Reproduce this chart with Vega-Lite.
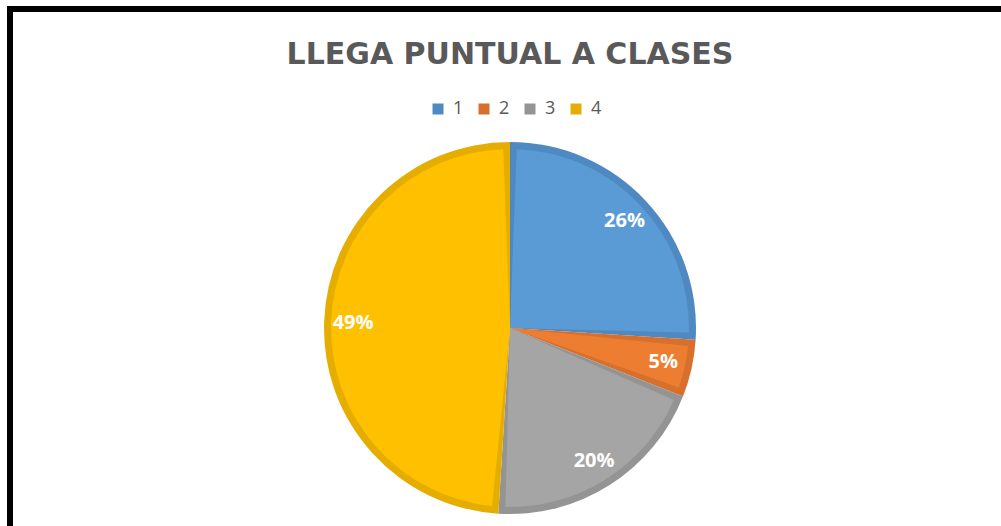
{
  "$schema": "https://vega.github.io/schema/vega-lite/v6.json",
  "autosize": {"type": "none"},
  "padding": {"left": 10, "top": 9, "right": -9, "bottom": -121},
  "width": 1000,
  "height": 638,
  "background": "white",
  "view": {"stroke": "black", "strokeWidth": 6, "fill": "white"},
  "title": {
    "text": "LLEGA PUNTUAL A CLASES",
    "fontSize": 30,
    "font": "DejaVu Sans",
    "fontWeight": "bold",
    "color": "#595959",
    "anchor": "middle",
    "offset": -61
  },
  "data": {
    "values": [
      {"cat": "1", "value": 26, "label": "26%"},
      {"cat": "2", "value": 5, "label": "5%"},
      {"cat": "3", "value": 20, "label": "20%"},
      {"cat": "4", "value": 49, "label": "49%"}
    ]
  },
  "encoding": {
    "theta": {"field": "value", "type": "quantitative", "stack": true},
    "order": {"field": "cat", "type": "ordinal"}
  },
  "layer": [
    {
      "mark": {"type": "arc", "radius": 186},
      "encoding": {
        "fill": {
          "field": "cat",
          "type": "nominal",
          "scale": {"domain": ["1", "2", "3", "4"], "range": ["#4F89C1", "#D6702C", "#949494", "#E5AD00"]},
          "legend": {
            "title": null,
            "orient": "none",
            "direction": "horizontal",
            "legendX": 419,
            "legendY": 91,
            "padding": 0,
            "symbolType": "square",
            "symbolSize": 121,
            "symbolStrokeWidth": 0,
            "labelFont": "Open Sans",
            "labelFontSize": 18,
            "labelColor": "#595959",
            "labelOffset": 6,
            "columnPadding": 11
          }
        }
      }
    },
    {
      "mark": {"type": "arc", "radius": 179, "padAngle": 0.075},
      "encoding": {
        "color": {
          "field": "cat",
          "type": "nominal",
          "scale": {"domain": ["1", "2", "3", "4"], "range": ["#5B9BD5", "#ED7D31", "#A5A5A5", "#FFC000"]},
          "legend": null
        }
      }
    },
    {
      "mark": {"type": "text", "radius": 157, "font": "Open Sans", "fontWeight": "bold", "fontSize": 20, "color": "white"},
      "encoding": {
        "text": {"field": "label", "type": "nominal"}
      }
    }
  ]
}
